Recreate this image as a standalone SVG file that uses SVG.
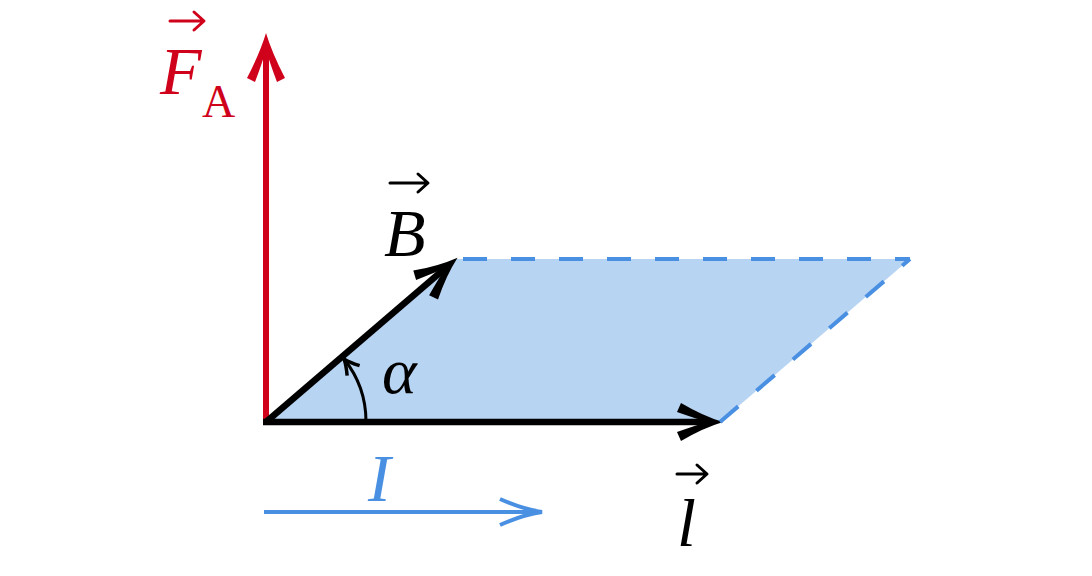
<svg xmlns="http://www.w3.org/2000/svg" width="1092" height="576" viewBox="0 0 1092 576">
<style>
.lbl{font-family:"Liberation Serif","DejaVu Serif",serif;font-style:italic}
.up{font-family:"Liberation Serif","DejaVu Serif",serif;font-style:normal}
.vec{fill:none;stroke-width:3;stroke-linecap:round;stroke-linejoin:round}
</style>
<defs>
<marker id="hBlack" markerUnits="userSpaceOnUse" viewBox="-50 -25 56 50" refX="-12" refY="0" markerWidth="56" markerHeight="50" orient="auto" overflow="visible">
<path d="M 2 0 Q -18 -6 -40 -19 L -44 -10 Q -24 -3 -14 0 Q -24 3 -44 10 L -40 19 Q -18 6 2 0 Z" fill="#000"/>
</marker>
<marker id="hRed" markerUnits="userSpaceOnUse" viewBox="-50 -25 56 50" refX="-12" refY="0" markerWidth="56" markerHeight="50" orient="auto" overflow="visible">
<path d="M 2 0 Q -18 -6 -43 -19 L -47 -11 Q -26 -3 -14 0 Q -26 3 -47 11 L -43 19 Q -18 6 2 0 Z" fill="#d0021b"/>
</marker>
<marker id="hBlue" markerUnits="userSpaceOnUse" viewBox="-50 -20 56 40" refX="0" refY="0" markerWidth="56" markerHeight="40" orient="auto" overflow="visible">
<path d="M -42 -13 Q -20 -3 0 0 Q -20 3 -42 13" fill="none" stroke="#4a90e2" stroke-width="4"/>
</marker>
<marker id="hArc" markerUnits="userSpaceOnUse" viewBox="-20 -12 24 24" refX="0" refY="0" markerWidth="24" markerHeight="24" orient="auto" overflow="visible">
<path d="M -15 -8 Q -6 -2 0 0 Q -6 2 -15 8" fill="none" stroke="#000" stroke-width="3.5"/>
</marker>
</defs>
<g id="plane">
<polygon points="266,422 720,422 910,259 456,259" fill="#b8d4f3"/>
</g>
<g id="connectors">
<line id="FA" x1="266" y1="422" x2="266" y2="47" stroke="#d0021b" stroke-width="6" marker-end="url(#hRed)"/>
<line id="Bvec" x1="266" y1="422" x2="446.9" y2="266.8" stroke="#000" stroke-width="6.5" marker-end="url(#hBlack)"/>
<line id="lvec" x1="263" y1="422" x2="709" y2="422" stroke="#000" stroke-width="6.5" marker-end="url(#hBlack)"/>
<path id="alphaArc" d="M 366 422 A 100 100 0 0 0 344 359" fill="none" stroke="#000" stroke-width="3" marker-end="url(#hArc)"/>
<line id="Icur" x1="264" y1="512" x2="542" y2="512" stroke="#4a90e2" stroke-width="4" marker-end="url(#hBlue)"/>
<g stroke="#4a90e2" stroke-width="4" stroke-dasharray="24 24" fill="none">
<line x1="463" y1="259" x2="910" y2="259"/>
<line x1="720" y1="422" x2="910" y2="259"/>
</g>
</g>
<g id="label-FA" fill="#d0021b">
<text class="lbl" x="160" y="94" font-size="68">F</text>
<text class="up" x="202" y="117" font-size="46">A</text>
<g class="vec" stroke="#d0021b"><path d="M 170 21 H 203 M 194 12 L 204 21 L 194 30"/></g>
</g>
<g id="label-B">
<text class="lbl" x="384" y="256" font-size="68">B</text>
<g class="vec" stroke="#000"><path d="M 390 183 H 427 M 418 174 L 428 183 L 418 192"/></g>
</g>
<g id="label-alpha">
<text class="lbl" x="382" y="393" font-size="66">α</text>
</g>
<g id="label-l">
<text class="lbl" x="677" y="546" font-size="68">l</text>
<g class="vec" stroke="#000"><path d="M 677 474 H 706 M 697 465 L 707 474 L 697 483"/></g>
</g>
<g id="label-I">
<text class="lbl" x="368" y="501" font-size="68" fill="#4a90e2">I</text>
</g>
</svg>
